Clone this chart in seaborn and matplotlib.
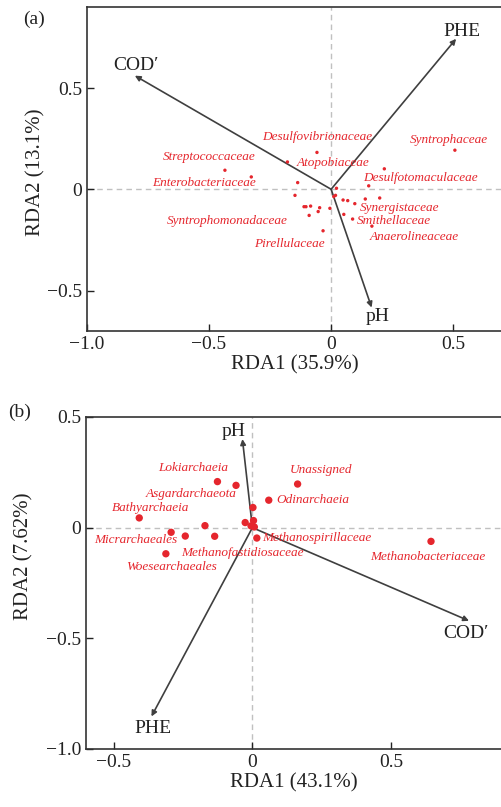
import pandas as pd
import matplotlib
matplotlib.use("Agg")
import matplotlib.pyplot as plt
import seaborn as sns

# ---- data: panel (a) bacteria (family level) ----
a_x = [0.507, -0.435, -0.327, -0.058, -0.179, 0.218, 0.154, -0.137, -0.148, 0.022,
       0.018, 0.011, 0.049, 0.068, 0.097, 0.140, 0.199, 0.052, 0.088, 0.167,
       -0.111, -0.103, -0.084, -0.047, -0.053, -0.090, -0.005, -0.033]
a_y = [0.193, 0.094, 0.061, 0.182, 0.135, 0.101, 0.017, 0.033, -0.030, 0.005,
       -0.030, -0.036, -0.053, -0.056, -0.071, -0.048, -0.043, -0.124, -0.147, -0.182,
       -0.086, -0.086, -0.083, -0.091, -0.110, -0.129, -0.094, -0.205]
a_env = ["COD\u2032", "PHE", "pH"]
a_env_x = [-0.804, 0.512, 0.166]
a_env_y = [0.561, 0.743, -0.584]

# ---- data: panel (b) archaea ----
b_x = [-0.126, -0.059, 0.163, 0.059, 0.002, -0.408, -0.026, 0.004, -0.005, 0.007,
       -0.171, -0.293, -0.242, -0.136, 0.016, -0.312, 0.644]
b_y = [0.208, 0.191, 0.197, 0.124, 0.091, 0.044, 0.023, 0.032, 0.008, 0.003,
       0.009, -0.021, -0.038, -0.039, -0.047, -0.118, -0.062]
b_env = ["pH", "COD\u2032", "PHE"]
b_env_x = [-0.036, 0.781, -0.364]
b_env_y = [0.400, -0.421, -0.853]

# taxon labels and where they are written
a_labels = [("Desulfovibrionaceae", -0.057, 0.259), ("Syntrophaceae", 0.483, 0.244),
            ("Streptococcaceae", -0.499, 0.160), ("Atopobiaceae", 0.007, 0.129),
            ("Desulfotomaculaceae", 0.367, 0.054), ("Enterobacteriaceae", -0.519, 0.030),
            ("Synergistaceae", 0.279, -0.094), ("Syntrophomonadaceae", -0.427, -0.157),
            ("Smithellaceae", 0.256, -0.157), ("Anaerolineaceae", 0.341, -0.234),
            ("Pirellulaceae", -0.170, -0.272)]
b_labels = [("Lokiarchaeia", -0.215, 0.271), ("Unassigned", 0.249, 0.259),
            ("Asgardarchaeota", -0.221, 0.151), ("Odinarchaeia", 0.217, 0.123),
            ("Bathyarchaeia", -0.367, 0.089), ("Micrarchaeales", -0.421, -0.056),
            ("Methanospirillaceae", 0.233, -0.047), ("Methanofastidiosaceae", -0.035, -0.114),
            ("Methanobacteriaceae", 0.634, -0.132), ("Woesearchaeales", -0.290, -0.180)]
a_env_lab = [(-0.80, 0.610), (0.536, 0.780), (0.190, -0.630)]
b_env_lab = [(-0.066, 0.435), (0.769, -0.477), (-0.358, -0.906)]

RED = "#e5262d"
ARROW = "#3f3f3f"

sns.set_style("ticks")
plt.rcParams["font.family"] = ["Liberation Serif", "DejaVu Serif"]

fig = plt.figure(figsize=(5.02, 8.07), dpi=100)
ax_a = fig.add_axes([0.1733, 0.5898, 0.8267, 0.4015])
ax_b = fig.add_axes([0.1713, 0.0719, 0.8287, 0.4114])


def fmt(v, pos=None):
    if abs(v) < 1e-9:
        return "0"
    return f"{v:.1f}".replace("-", "\u2212")


def draw(ax, px, py, size, env, ex, ey, env_lab, labels, xlim, ylim, xt, yt, xlab, ylab):
    ax.axhline(0, color="#c0c0c0", lw=1, ls=(0, (4, 3)), zorder=0)
    ax.axvline(0, color="#c0c0c0", lw=1, ls=(0, (4, 3)), zorder=0)
    df = pd.DataFrame({"RDA1": px, "RDA2": py})
    sns.scatterplot(data=df, x="RDA1", y="RDA2", ax=ax, color=RED, s=size,
                    edgecolor="none", zorder=3)
    for name, x, y, (lx, ly) in zip(env, ex, ey, env_lab):
        ax.annotate("", xy=(x, y), xytext=(0, 0),
                    arrowprops=dict(arrowstyle="-|>", color=ARROW, lw=1.2,
                                    mutation_scale=8, shrinkA=0, shrinkB=0),
                    zorder=2)
        ax.text(lx, ly, name, fontsize=14, ha="center", va="center", color="#222222")
    for name, x, y in labels:
        ax.text(x, y, name, fontsize=9.5, style="italic", color=RED,
                ha="center", va="center")
    ax.set_xlim(*xlim)
    ax.set_ylim(*ylim)
    ax.set_xticks(xt)
    ax.set_yticks(yt)
    ax.xaxis.set_major_formatter(plt.FuncFormatter(fmt))
    ax.yaxis.set_major_formatter(plt.FuncFormatter(fmt))
    ax.tick_params(direction="in", length=5, width=1, labelsize=14, colors="#222222")
    ax.set_xlabel(xlab, fontsize=15, color="#222222", labelpad=2)
    ax.set_ylabel(ylab, fontsize=15, color="#222222")
    for s in ["left", "bottom", "top"]:
        ax.spines[s].set_linewidth(1.2)
        ax.spines[s].set_color("#333333")
    ax.spines["right"].set_visible(False)


draw(ax_a, a_x, a_y, 6, a_env, a_env_x, a_env_y, a_env_lab, a_labels,
     (-1.0, 0.7), (-0.7, 0.9), [-1.0, -0.5, 0, 0.5], [-0.5, 0, 0.5],
     "RDA1 (35.9%)", "RDA2 (13.1%)")
draw(ax_b, b_x, b_y, 28, b_env, b_env_x, b_env_y, b_env_lab, b_labels,
     (-0.6, 0.9), (-1.0, 0.5), [-0.5, 0, 0.5], [-1.0, -0.5, 0, 0.5],
     "RDA1 (43.1%)", "RDA2 (7.62%)")

# y labels: x is the right edge of the rotated text
ax_a.yaxis.set_label_coords((45 - 87) / (0.8267 * 502), 0.49)
ax_b.yaxis.set_label_coords((33 - 86) / (0.8287 * 502), 0.58)

fig.text(34 / 502, 1 - 19 / 807, "(a)", fontsize=14, ha="center", va="center", color="#222222")
fig.text(20 / 502, 1 - 412 / 807, "(b)", fontsize=14, ha="center", va="center", color="#222222")

fig.savefig("out.png", dpi=100)
